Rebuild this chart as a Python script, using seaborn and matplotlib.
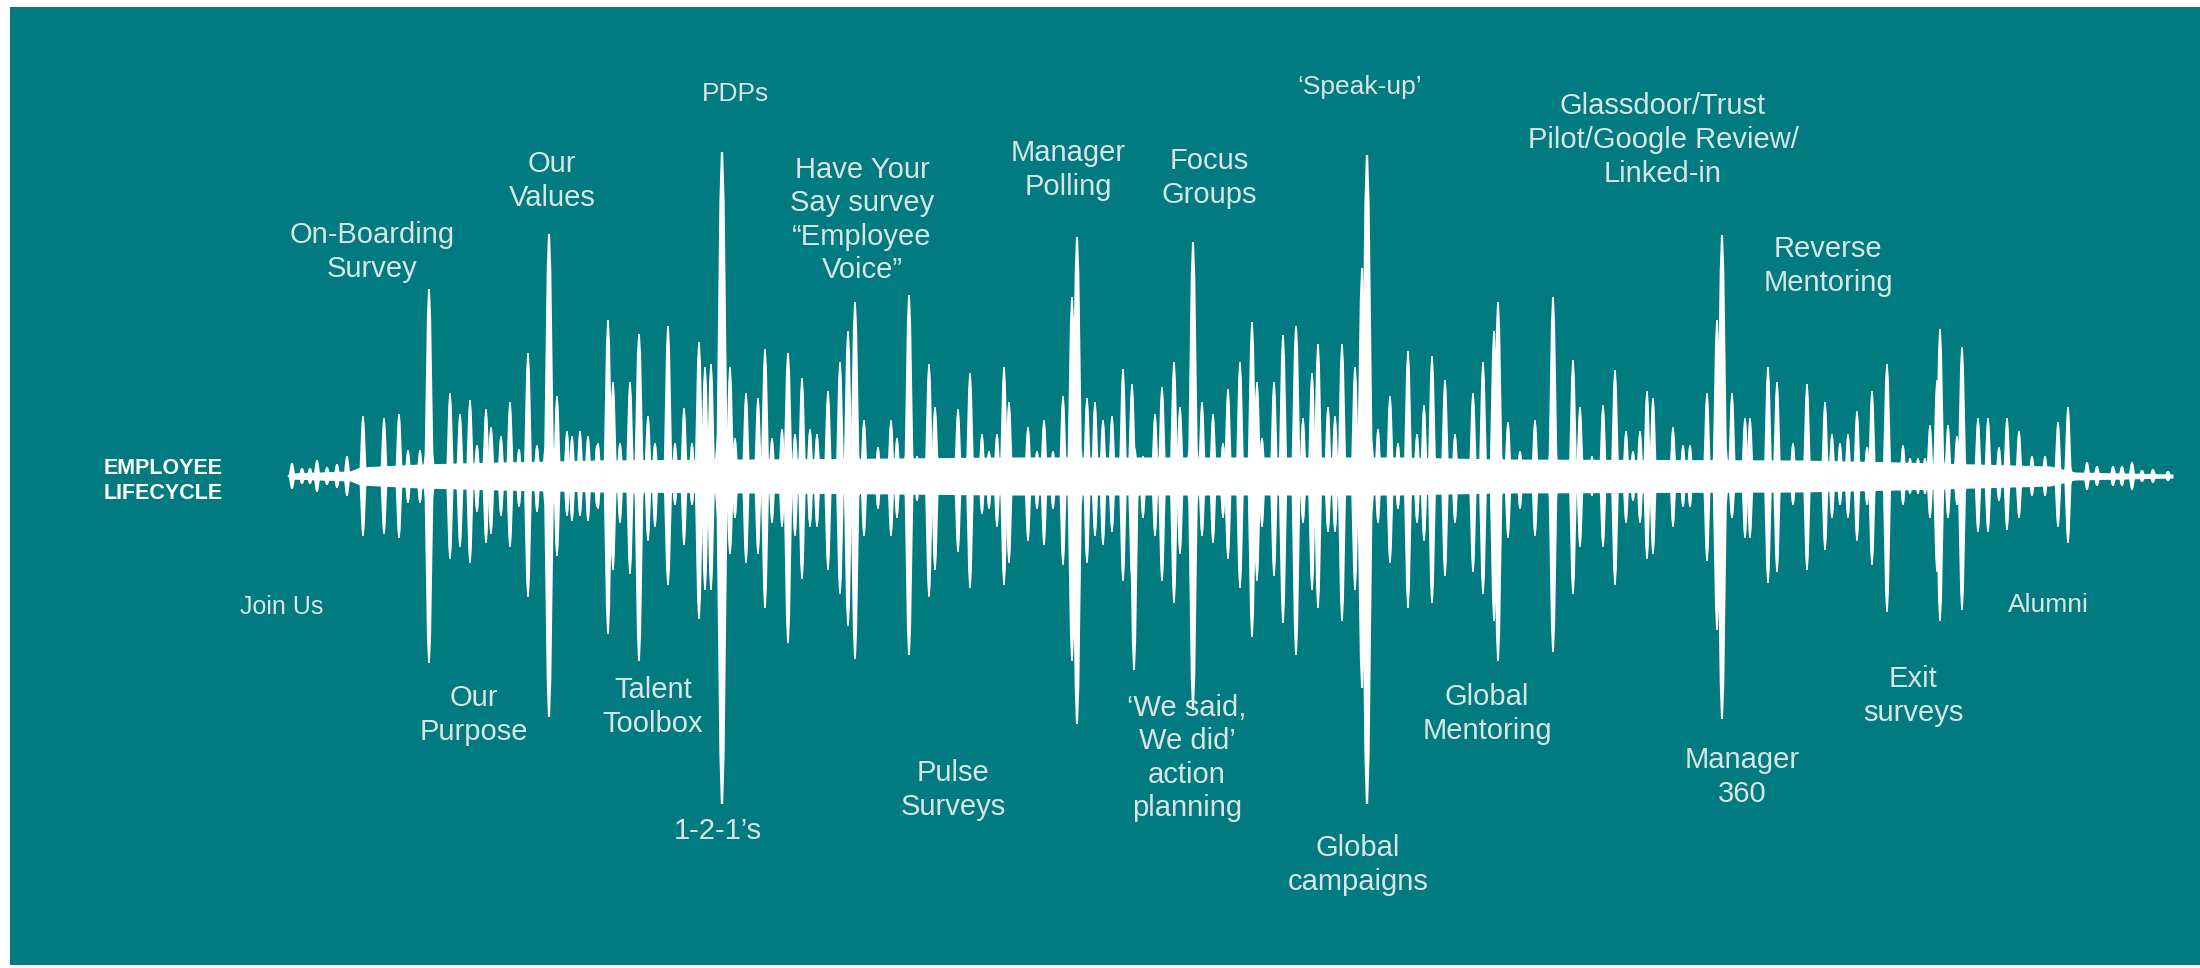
import numpy as np
import matplotlib
matplotlib.use("Agg")
import matplotlib.pyplot as plt
from matplotlib.patches import Rectangle
import seaborn as sns

sns.set_theme(style="white")
plt.rcParams["font.family"] = ["Liberation Sans", "DejaVu Sans"]

# ---------------- data (pixel units) ----------------
spike_x = [292, 302, 310, 317, 327, 337, 347,
           363, 384, 399, 408, 420, 429, 450, 460, 470, 477, 486, 491, 501, 510, 519, 528, 537, 549, 557, 567, 572, 580, 588, 597,
           598, 608, 613, 620, 630, 639, 648, 655, 668, 675, 684, 692, 699, 705, 711, 722, 730, 735, 746, 758, 765, 772, 782, 788,
           795, 802, 810, 817, 828, 840, 848, 855, 864, 878, 891, 897, 909,
           917, 929, 935, 945, 958, 970, 982, 989, 997, 1004, 1009, 1017, 1028, 1037, 1044, 1053, 1063, 1072, 1077, 1087, 1095,
           1103, 1112, 1123, 1132, 1134, 1143, 1155, 1162, 1174, 1180, 1193, 1202, 1213, 1223,
           1228, 1240, 1252, 1257, 1262, 1274, 1283, 1296, 1303, 1312, 1318, 1328, 1335, 1342, 1355, 1362, 1367, 1378, 1390, 1398,
           1408, 1417, 1424, 1432, 1445, 1455, 1473, 1483, 1494, 1498, 1508, 1520, 1535,
           1553, 1573, 1580, 1592, 1603, 1615, 1626, 1633, 1640, 1647, 1653, 1673, 1683, 1690, 1707, 1717, 1722, 1732, 1745, 1750,
           1768, 1777, 1793, 1807, 1825, 1832, 1840, 1848, 1857,
           1867, 1872, 1887, 1903, 1910, 1918, 1925, 1930, 1937, 1940, 1948, 1957, 1962, 1978, 1988, 1999, 2007, 2019, 2032, 2045,
           2058, 2068, 2087, 2097, 2113, 2122, 2132, 2142, 2153, 2168]
spike_up = [13, 8, 8, 16, 9, 12, 20,
            60, 58, 62, 26, 26, 187, 83, 62, 76, 31, 67, 49, 40, 74, 27, 123, 31, 242, 80, 45, 40, 45, 40, 31,
            33, 156, 94, 33, 94, 142, 60, 33, 150, 33, 68, 33, 134, 109, 112, 324, 109, 38, 83, 78, 127, 38, 47, 123,
            42, 98, 47, 42, 85, 114, 145, 174, 56, 29, 56, 38, 181,
            20, 112, 69, 18, 67, 103, 42, 25, 42, 109, 74, 11, 49, 25, 56, 25, 80, 179, 239, 78, 74,
            56, 60, 107, 92, 29, 20, 62, 89, 114, 69, 234, 74, 62, 33,
            87, 114, 154, 94, 38, 94, 141, 150, 58, 103, 132, 69, 60, 132, 109, 208, 321, 47, 80, 33,
            125, 42, 71, 120, 96, 42, 83, 114, 145, 174, 54, 25, 56,
            179, 116, 69, 20, 71, 106, 45, 25, 45, 85, 78, 49, 31, 31, 83, 156, 241, 83, 58, 58,
            109, 94, 33, 92, 74, 42, 33, 42, 65,
            29, 85, 112, 31, 18, 18, 18, 51, 96, 147, 51, 40, 129, 58, 58, 29, 58, 45, 20, 20,
            54, 69, 14, 10, 10, 10, 14, 6, 7, 5]
spike_down = [13, 8, 8, 16, 9, 12, 20,
              60, 58, 62, 27, 27, 187, 83, 71, 87, 36, 67, 58, 40, 71, 31, 121, 36, 241, 80, 40, 45, 40, 45, 31,
              33, 158, 94, 47, 98, 185, 65, 51, 109, 29, 69, 29, 143, 114, 114, 328, 78, 42, 87, 78, 132, 47, 51, 167,
              60, 103, 51, 51, 94, 118, 150, 183, 60, 33, 60, 42, 179,
              25, 121, 94, 16, 76, 112, 38, 33, 51, 109, 87, 16, 65, 33, 69, 33, 89, 185, 248, 87, 60,
              69, 56, 105, 105, 194, 42, 60, 105, 127, 78, 234, 60, 67, 42,
              83, 112, 161, 105, 51, 100, 147, 179, 47, 114, 132, 56, 56, 145, 114, 212, 328, 47, 87, 33,
              132, 47, 65, 127, 100, 47, 96, 118, 145, 185, 62, 33, 60,
              176, 118, 71, 20, 71, 109, 47, 25, 47, 83, 78, 51, 31, 31, 85, 154, 243, 42, 62, 62,
              107, 96, 29, 94, 74, 42, 29, 42, 65,
              29, 89, 136, 29, 18, 18, 18, 42, 96, 145, 42, 29, 134, 56, 56, 25, 54, 42, 20, 20,
              51, 67, 14, 10, 10, 10, 14, 6, 7, 5]

body_x = [289, 350, 360, 420, 500, 600, 900, 1000, 1400, 1500, 1800, 1900, 2050, 2075, 2173]
body_half = [3, 5, 9, 12, 14, 16, 18, 19, 19, 17, 16, 14, 10, 4, 2]

top_labels = ["On-Boarding\nSurvey", "Our\nValues", "Have Your\nSay survey\n\u201cEmployee\nVoice\u201d",
              "Manager\nPolling", "Focus\nGroups", "Glassdoor/Trust\nPilot/Google Review/\nLinked-in",
              "Reverse\nMentoring",
              "Our\nPurpose", "Talent\nToolbox", "Pulse\nSurveys",
              "\u2018We said,\nWe did\u2019\naction\nplanning", "Global\ncampaigns", "Global\nMentoring",
              "Manager\n360", "Exit\nsurveys", "1-2-1\u2019s"]
top_label_x = [372, 552, 862, 1068, 1209, 1663, 1828, 474, 653, 953, 1187, 1358, 1487, 1742, 1913, 718]
top_label_y = [252, 181, 220, 170, 178, 140, 266, 715, 707, 790, 758, 865, 714, 777, 696, 831]

narrow_labels = ["PDPs", "\u2018Speak-up\u2019", "Join Us", "Alumni"]
narrow_label_x = [735, 1360, 282, 2048]
narrow_label_y = [94, 87, 607, 605]

# ---------------- drawing ----------------
TEAL = "#017b7f"
TXT = "#d9e5e5"
CENTER = 476

fig = plt.figure(figsize=(22, 9.68), dpi=100, facecolor="white")
ax = fig.add_axes([0, 0, 1, 1])
ax.set_xlim(0, 2200)
ax.set_ylim(968, 0)
ax.axis("off")
ax.add_patch(Rectangle((10, 7), 2190, 958, color=TEAL, lw=0, zorder=0))

bx = np.array(body_x, float)
bh = np.array(body_half, float)
ax.fill_between(bx, CENTER - bh, CENTER + bh, color="white", lw=0, zorder=2)

# needle profile: (fraction of height, fraction of half-width)
prof_h = [0.0, 0.12, 0.5, 0.85, 1.0]
prof_w = [1.0, 0.66, 0.48, 0.32, 0.14]
for x, au, ad in zip(spike_x, spike_up, spike_down):
    a = max(au, ad)
    w = 4.5 + a / 90.0
    px, py = [], []
    for h, f in zip(prof_h, prof_w):
        px.append(x - max(f * w, 0.6)); py.append(CENTER - h * au)
    for h, f in zip(prof_h[::-1], prof_w[::-1]):
        px.append(x + max(f * w, 0.6)); py.append(CENTER - h * au)
    for h, f in zip(prof_h[1:], prof_w[1:]):
        px.append(x + max(f * w, 0.6)); py.append(CENTER + h * ad)
    for h, f in zip(prof_h[::-1][:-1], prof_w[::-1][:-1]):
        px.append(x - max(f * w, 0.6)); py.append(CENTER + h * ad)
    ax.fill(px, py, color="white", lw=0, zorder=3)

for s, x, y in zip(top_labels, top_label_x, top_label_y):
    ax.text(x, y, s, ha="center", va="center", fontsize=21, color=TXT,
            linespacing=1.25, zorder=5, family=["Liberation Sans", "DejaVu Sans"])

for s, x, y in zip(narrow_labels, narrow_label_x, narrow_label_y):
    fs = 18 if s == "Join Us" else 19
    ax.text(x, y, s, ha="center", va="center", fontsize=fs, color=TXT, zorder=5,
            family=["Liberation Sans Narrow", "Liberation Sans", "DejaVu Sans"])

ax.text(163, 481, "EMPLOYEE\nLIFECYCLE", ha="center", va="center", fontsize=15.5,
        fontweight="bold", color="white", linespacing=1.3, zorder=5,
        family=["Liberation Sans", "DejaVu Sans"])

fig.savefig("out.png", dpi=100, facecolor="white")
